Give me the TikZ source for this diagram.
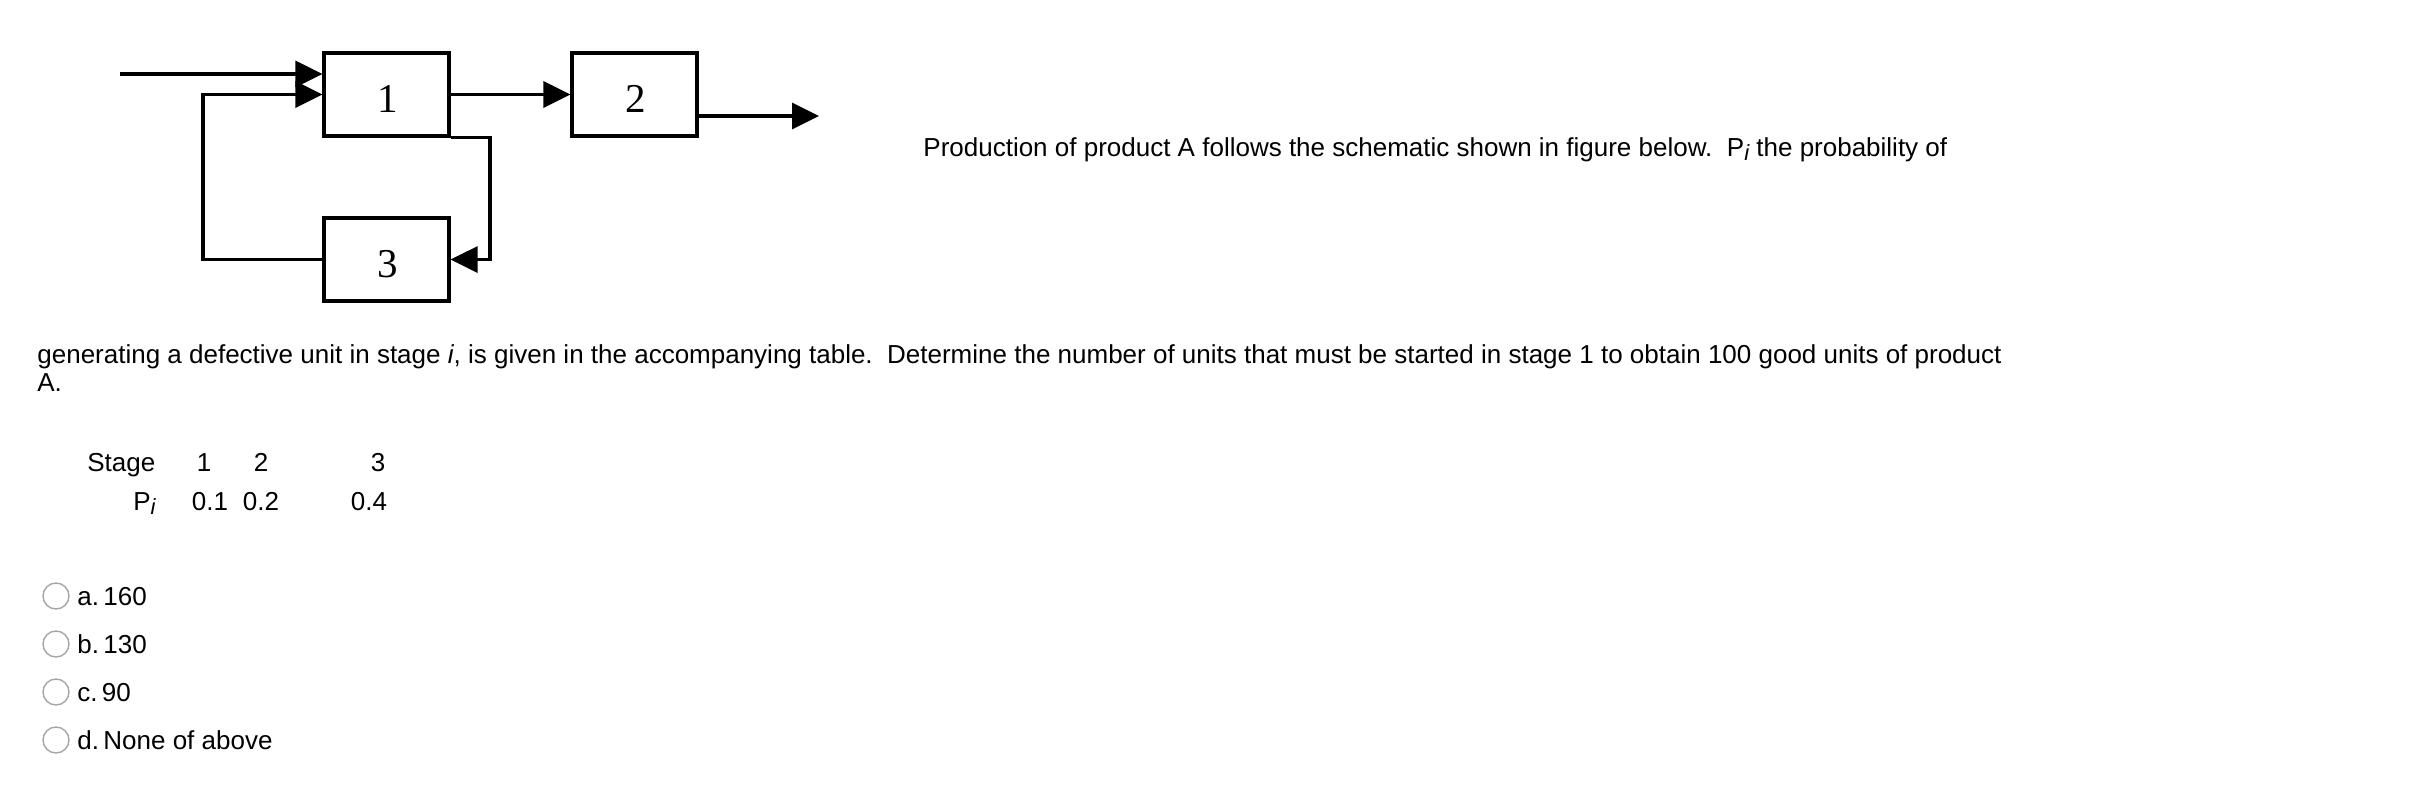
\documentclass[tikz,border=0pt]{standalone}
\usepackage{fontspec}
\setmainfont{Liberation Sans}
\newfontfamily\timesf{Liberation Serif}
\usetikzlibrary{arrows.meta}
\newcommand{\subi}{\raisebox{-0.3ex}{\fontsize{11pt}{12pt}\selectfont\itshape i}}
\begin{document}
\begin{tikzpicture}[x=0.5pt,y=-0.5pt,
  blk/.style={draw,line width=1.6pt,minimum width=62.5pt,minimum height=41.5pt,inner sep=0pt},
  num/.style={font=\timesf\fontsize{20.5pt}{24pt}\selectfont,inner sep=0pt},
  arr/.style={line width=1.6pt,-{Triangle[length=13.5pt,width=13pt]}},
  txt/.style={anchor=base west,inner sep=0pt,font=\fontsize{13pt}{15pt}\selectfont},
  ctxt/.style={anchor=base,inner sep=0pt,font=\fontsize{13pt}{15pt}\selectfont},
  radio/.style={circle,draw=black!35,line width=0.7pt,fill=white,minimum size=13pt,inner sep=0pt}]
\useasboundingbox (0,0) rectangle (2428,788);
% blocks
\node[blk] (b1) at (386.5,94.5) {};
\node[blk] (b2) at (634.5,94.5) {};
\node[blk] (b3) at (386.5,259.5) {};
\node[num] (n1) at (388,99) {1};
\node[num] (n2) at (636,99) {2};
\node[num] (n3) at (388,264) {3};
% connectors
\coordinate (in) at (120,74);
\coordinate (fbl) at (203,94.5);
\coordinate (fbr) at (490,136);
\coordinate (out) at (819,116);
\draw[arr] (in) -- (in -| b1.west);
\draw[arr] (b3.west) -| (fbl) -- (b1.west);
\draw[arr] (b1.east) -- (b2.west);
\draw[arr] (b2.east |- out) -- (out);
\draw[arr] (b1.south east) -- (b1.south east -| fbr) |- (b3.east);
% text
\node[txt] (t1) at (923,156) {Production of product A follows the schematic shown in figure below.\ \ P\subi\ the probability of};
\node[txt] (t2) at (37,363) {generating a defective unit in stage \textit{i}, is given in the accompanying table.\ \ Determine the number of units that must be started in stage 1 to obtain 100 good units of product};
\node[txt] (t3) at (37,391) {A.};
% table
\node[txt] (st) at (87,471) {Stage};
\node[ctxt] (s1) at (204,471) {1};
\node[ctxt] (s2) at (261,471) {2};
\node[ctxt] (s3) at (378,471) {3};
\node[txt] (pi) at (133,510) {P\subi};
\node[ctxt] (p1) at (210,510) {0.1};
\node[ctxt] (p2) at (261,510) {0.2};
\node[ctxt] (p3) at (369,510) {0.4};
% options
\node[radio] (ra) at (56,596) {};
\node[radio] (rb) at (56,644) {};
\node[radio] (rc) at (56,692) {};
\node[radio] (rd) at (56,740) {};
\node[txt] (oa) at (77,605) {a.\,160};
\node[txt] (ob) at (77,653) {b.\,130};
\node[txt] (oc) at (77,701) {c.\,90};
\node[txt] (od) at (77,749) {d.\,None of above};
\end{tikzpicture}
\end{document}
